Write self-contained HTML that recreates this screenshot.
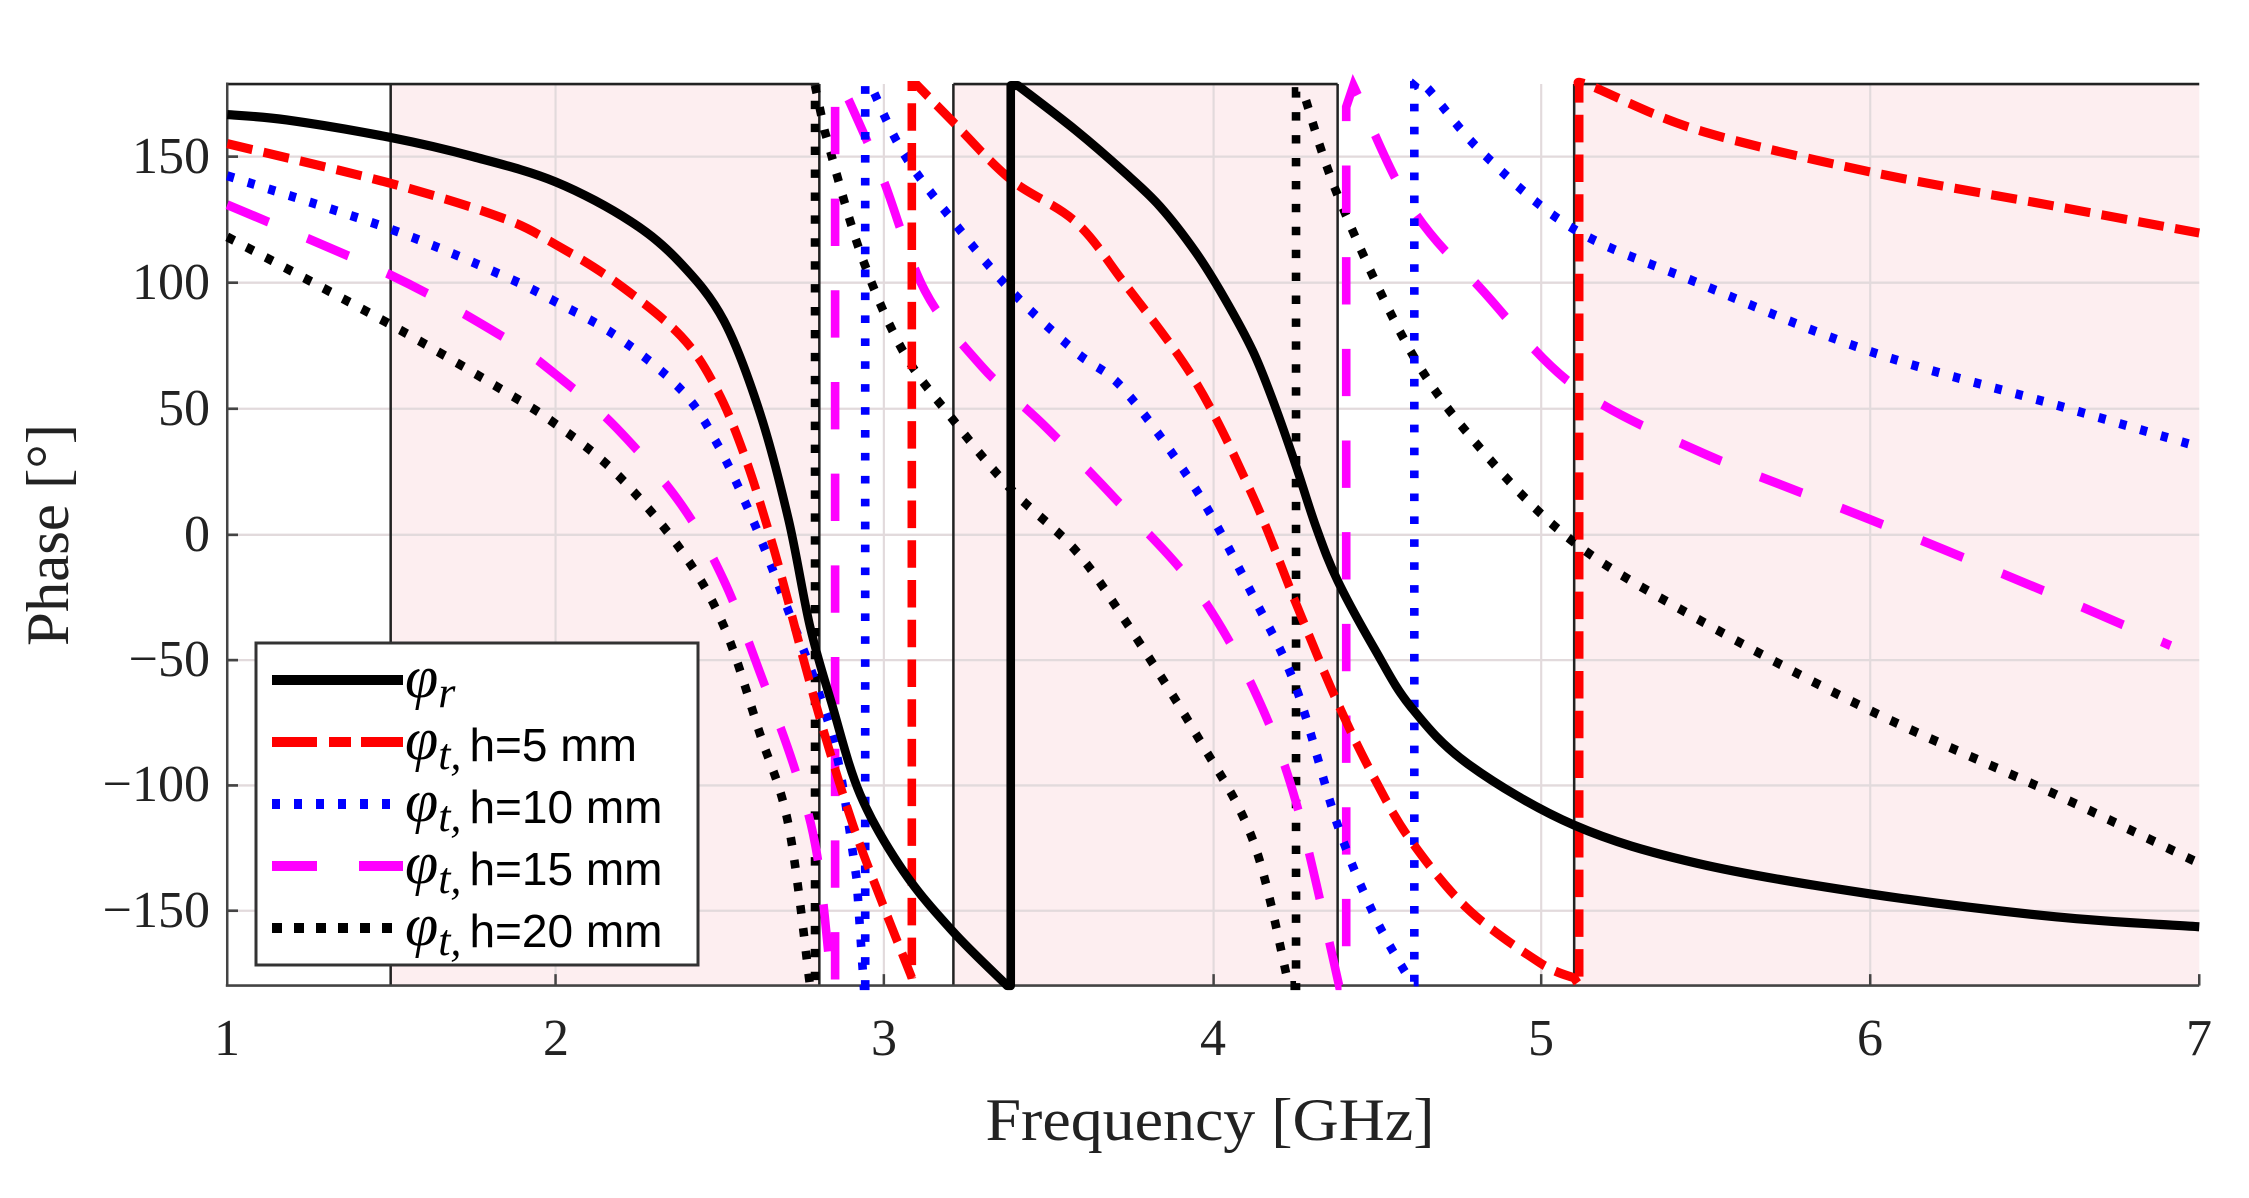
<!DOCTYPE html>
<html><head><meta charset="utf-8"><style>
html,body{margin:0;padding:0;background:#fff;}
.wrap{position:relative;width:2249px;height:1198px;overflow:hidden;}
svg{position:absolute;left:0;top:0;}
</style></head><body><div class="wrap">
<svg width="2249" height="1198" viewBox="0 0 3137.4 1568" preserveAspectRatio="none">
 <g fill="#fdeef0" stroke="none">
  <rect x="545" y="110" width="598" height="1180"/>
  <rect x="1330" y="110" width="536" height="1180"/>
  <rect x="2196" y="110" width="872" height="1180"/>
 </g>
 <g stroke="#e2dadc" stroke-width="3">
  <line x1="775" y1="110" x2="775" y2="1290"/><line x1="1233" y1="110" x2="1233" y2="1290"/>
  <line x1="1693" y1="110" x2="1693" y2="1290"/><line x1="2150" y1="110" x2="2150" y2="1290"/>
  <line x1="2609" y1="110" x2="2609" y2="1290"/>
  <line x1="317" y1="205" x2="3068" y2="205"/><line x1="317" y1="370" x2="3068" y2="370"/>
  <line x1="317" y1="535" x2="3068" y2="535"/><line x1="317" y1="700" x2="3068" y2="700"/>
  <line x1="317" y1="864" x2="3068" y2="864"/><line x1="317" y1="1028" x2="3068" y2="1028"/>
  <line x1="317" y1="1192" x2="3068" y2="1192"/>
 </g>
 <g stroke="#222" stroke-width="3.5" fill="none">
  <line x1="545" y1="110" x2="545" y2="1290"/><line x1="1143" y1="110" x2="1143" y2="1290"/>
  <line x1="1330" y1="110" x2="1330" y2="1290"/><line x1="1866" y1="110" x2="1866" y2="1290"/>
  <line x1="2196" y1="110" x2="2196" y2="1290"/>
  <line x1="317" y1="110" x2="1143" y2="110"/><line x1="1330" y1="110" x2="1866" y2="110"/><line x1="2196" y1="110" x2="3068" y2="110"/>
 </g>
 <g stroke="#444" stroke-width="3.5" fill="none">
  <line x1="317" y1="108" x2="317" y2="1291"/><line x1="315" y1="1290" x2="3068" y2="1290"/>
  <line x1="3068" y1="1290" x2="3068" y2="1275"/>
  <line x1="775" y1="1290" x2="775" y2="1275"/><line x1="1233" y1="1290" x2="1233" y2="1275"/>
  <line x1="1693" y1="1290" x2="1693" y2="1275"/><line x1="2150" y1="1290" x2="2150" y2="1275"/>
  <line x1="2609" y1="1290" x2="2609" y2="1275"/>
  <line x1="317" y1="205" x2="332" y2="205"/><line x1="317" y1="370" x2="332" y2="370"/>
  <line x1="317" y1="535" x2="332" y2="535"/><line x1="317" y1="700" x2="332" y2="700"/>
  <line x1="317" y1="864" x2="332" y2="864"/><line x1="317" y1="1028" x2="332" y2="1028"/>
  <line x1="317" y1="1192" x2="332" y2="1192"/>
 </g>
 <g id="curves">
 <polyline fill="none" stroke="#000" stroke-width="12" stroke-dasharray="11 19" points="317,310 545,425 700,510 775,555 860,620 950,720 1010,820 1060,960 1100,1080 1130,1290 1137,1290 1137,112 1150,170 1200,330 1260,460 1330,550 1410,640 1500,720 1568,810 1668,960 1748,1100 1798,1290 1808,1290 1808,120 1818,120 1868,260 1968,460 2068,590 2196,710 2368,810 2609,930 2868,1040 3068,1130"/>
 <polyline fill="none" stroke="#ff00ff" stroke-width="12" stroke-dasharray="62 58" points="317,268 545,360 700,440 775,490 860,560 950,660 1010,760 1060,880 1110,1010 1140,1120 1160,1290 1165,1290 1165,112 1175,112 1230,230 1290,380 1370,480 1460,560 1568,665 1668,770 1748,900 1808,1050 1868,1290 1878,1290 1878,140 1888,112 1968,270 2068,380 2196,505 2368,590 2609,680 2868,780 3028,845"/>
 <polyline fill="none" stroke="#0000ff" stroke-width="12" stroke-dasharray="10 20" points="317,230 545,300 700,360 775,395 860,440 950,510 1000,580 1050,680 1100,800 1140,900 1170,1000 1195,1150 1205,1290 1207,1290 1207,112 1215,112 1260,200 1330,290 1410,380 1500,460 1568,510 1668,640 1748,780 1808,900 1866,1080 1918,1200 1968,1285 1973,1285 1973,112 1988,112 2068,200 2196,300 2368,370 2609,460 2868,530 3068,585"/>
 <polyline fill="none" stroke="#ff0000" stroke-width="12" stroke-dasharray="36 16" points="317,188 545,240 700,285 775,320 860,370 950,440 1000,510 1040,600 1080,720 1120,860 1150,960 1190,1080 1230,1180 1270,1275 1272,1280 1272,112 1280,112 1330,160 1410,235 1500,290 1568,370 1668,500 1748,650 1808,790 1866,920 1918,1020 1968,1100 2048,1190 2148,1260 2196,1280 2203,1290 2203,112 2218,112 2368,170 2609,225 2868,270 3068,305"/>
 <polyline fill="none" stroke="#000" stroke-width="12" stroke-linejoin="round" points="317,150 400,157 545,180 660,205 775,238 880,290 950,345 1010,420 1060,540 1100,680 1130,820 1160,920 1200,1040 1260,1140 1330,1220 1405,1290 1410,1290 1410,112 1420,112 1500,170 1568,225 1618,270 1668,330 1708,390 1748,460 1778,530 1808,610 1836,690 1866,760 1918,850 1968,925 2048,1000 2196,1080 2368,1130 2609,1170 2868,1200 3068,1213"/>
 </g>
</svg>
<svg width="2249" height="1198" viewBox="0 0 2249 1198">
 <g font-family="Liberation Serif, serif" font-size="52" fill="#222" text-anchor="end">
  <text x="210" y="173">150</text><text x="210" y="299">100</text>
  <text x="210" y="425">50</text><text x="210" y="551">0</text>
  <text x="210" y="676">−50</text><text x="210" y="801">−100</text>
  <text x="210" y="927">−150</text>
 </g>
 <g font-family="Liberation Serif, serif" font-size="52" fill="#222" text-anchor="middle">
  <text x="227" y="1055">1</text><text x="556" y="1055">2</text><text x="884" y="1055">3</text>
  <text x="1213" y="1055">4</text><text x="1541" y="1055">5</text><text x="1870" y="1055">6</text>
  <text x="2199" y="1055">7</text>
  <text x="1210" y="1140" font-size="60" textLength="449" lengthAdjust="spacingAndGlyphs">Frequency [GHz]</text>
  <text transform="translate(68,535) rotate(-90)" font-size="60" textLength="222" lengthAdjust="spacingAndGlyphs">Phase [°]</text>
 </g>
 <rect x="256" y="643" width="442" height="322" fill="#fff" stroke="#333" stroke-width="3"/>
 <g fill="none" stroke-width="10">
  <line x1="272" y1="680" x2="403" y2="680" stroke="#000"/>
  <line x1="272" y1="742" x2="403" y2="742" stroke="#f00" stroke-dasharray="45 12 22 10"/>
  <line x1="272" y1="804" x2="393" y2="804" stroke="#00f" stroke-dasharray="8 14"/>
  <line x1="272" y1="866" x2="403" y2="866" stroke="#f0f" stroke-dasharray="45 42"/>
  <line x1="272" y1="928" x2="393" y2="928" stroke="#000" stroke-dasharray="10 12"/>
 </g>
 <g font-family="Liberation Serif, serif" font-style="italic" fill="#000">
  <text x="405" y="697" font-size="60">φ<tspan font-size="44" dy="10">r</tspan></text>
  <text x="405" y="759" font-size="60">φ<tspan font-size="44" dy="10">t,</tspan><tspan font-family="Liberation Sans, sans-serif" font-style="normal" font-size="46" dy="-8" dx="8">h=5 mm</tspan></text>
  <text x="405" y="821" font-size="60">φ<tspan font-size="44" dy="10">t,</tspan><tspan font-family="Liberation Sans, sans-serif" font-style="normal" font-size="46" dy="-8" dx="8">h=10 mm</tspan></text>
  <text x="405" y="883" font-size="60">φ<tspan font-size="44" dy="10">t,</tspan><tspan font-family="Liberation Sans, sans-serif" font-style="normal" font-size="46" dy="-8" dx="8">h=15 mm</tspan></text>
  <text x="405" y="945" font-size="60">φ<tspan font-size="44" dy="10">t,</tspan><tspan font-family="Liberation Sans, sans-serif" font-style="normal" font-size="46" dy="-8" dx="8">h=20 mm</tspan></text>
 </g>
</svg>
</div>
<script>
(function(){
 var NS="http://www.w3.org/2000/svg";
 var pls=document.querySelectorAll('#curves polyline');
 for(var k=0;k<pls.length;k++){
  var pl=pls[k];
  var pts=pl.getAttribute('points').trim().split(/\s+/).map(function(s){var a=s.split(',');return [+a[0],+a[1]];});
  // split into runs at near-vertical segments
  var runs=[],cur=[pts[0]];
  for(var i=1;i<pts.length;i++){
   var dx=pts[i][0]-pts[i-1][0];
   if(dx<15){runs.push({pts:cur,smooth:true});runs.push({pts:[pts[i-1],pts[i]],smooth:false});cur=[pts[i]];}
   else cur.push(pts[i]);
  }
  runs.push({pts:cur,smooth:true});
  var d="M"+pts[0][0]+","+pts[0][1];
  runs.forEach(function(r){
   var p=r.pts;
   if(p.length<2)return;
   if(!r.smooth){d+=" L"+p[1][0]+","+p[1][1];return;}
   for(var i=0;i<p.length-1;i++){
    var p0=p[i-1]||p[i],p1=p[i],p2=p[i+1],p3=p[i+2]||p[i+1];
    var c1x=p1[0]+(p2[0]-p0[0])/6,c1y=p1[1]+(p2[1]-p0[1])/6;
    var c2x=p2[0]-(p3[0]-p1[0])/6,c2y=p2[1]-(p3[1]-p1[1])/6;
    d+=" C"+c1x+","+c1y+" "+c2x+","+c2y+" "+p2[0]+","+p2[1];
   }
  });
  var path=document.createElementNS(NS,'path');
  ['fill','stroke','stroke-width','stroke-dasharray','stroke-linejoin'].forEach(function(a){if(pl.getAttribute(a))path.setAttribute(a,pl.getAttribute(a));});
  path.setAttribute('d',d);
  pl.parentNode.replaceChild(path,pl);
 }
})();
</script>
</body></html>
